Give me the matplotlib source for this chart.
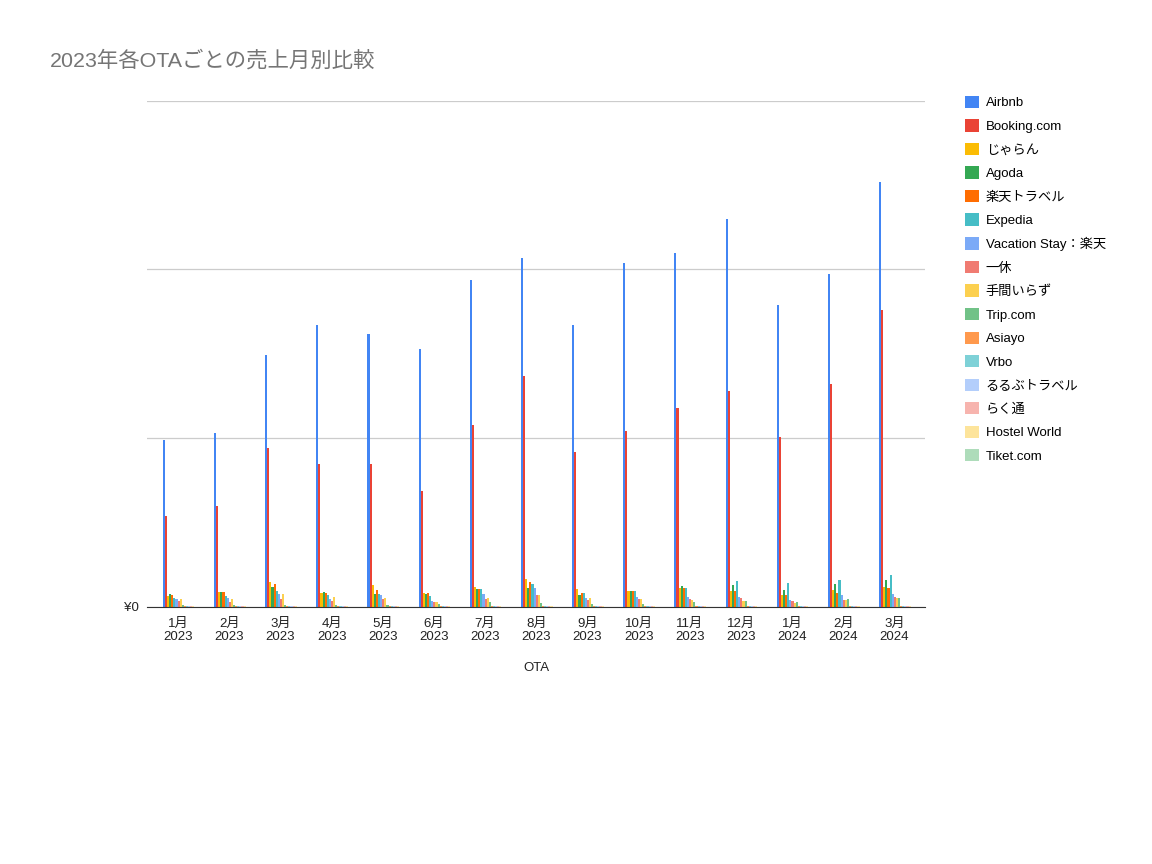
import matplotlib.pyplot as plt
import numpy as np

plt.rcParams['font.family'] = ['Liberation Sans', 'Noto Sans CJK JP', 'DejaVu Sans']

months = ['1月\n2023', '2月\n2023', '3月\n2023', '4月\n2023', '5月\n2023', '6月\n2023',
          '7月\n2023', '8月\n2023', '9月\n2023', '10月\n2023', '11月\n2023', '12月\n2023',
          '1月\n2024', '2月\n2024', '3月\n2024']

ota_names = ['Airbnb', 'Booking.com', 'じゃらん', 'Agoda', '楽天トラベル', 'Expedia',
             'Vacation Stay：楽天', '一休', '手間いらず', 'Trip.com', 'Asiayo', 'Vrbo',
             'るるぶトラベル', 'らく通', 'Hostel World', 'Tiket.com']

airbnb = [99, 103, 149, 167, 162, 153, 194, 207, 167, 204, 210, 230, 179, 197, 252]
booking = [54, 60, 94, 85, 85, 69, 108, 137, 92, 104, 118, 128, 101, 132, 176]
jalan = [6.5, 8.9, 14.8, 8.3, 13, 8.3, 11.8, 16.5, 10.6, 9.4, 11.2, 9.4, 7.1, 10, 11.8]
agoda = [7.7, 8.9, 11.8, 8.9, 7.7, 7.7, 10.6, 11.2, 7.1, 9.4, 12.4, 13, 10, 13.6, 16]
rakuten = [7.1, 8.9, 13.6, 8.3, 10, 8.3, 10.6, 14.8, 8.3, 9.4, 11.2, 9.4, 7.1, 8.3, 11.2]
expedia = [5.3, 6.5, 9.4, 7.1, 7.7, 6.5, 10.6, 13.6, 8.3, 9.4, 11.2, 15.4, 14.2, 16, 18.9]
vacation = [4.7, 5.3, 7.7, 4.7, 7.1, 3.5, 7.7, 11.2, 5.3, 5.9, 5.9, 5.9, 4.1, 7.1, 7.7]
ikkyu = [3.5, 3, 4.7, 3.5, 4.7, 3, 4.7, 7.1, 4.1, 4.7, 4.7, 5.3, 3.5, 4.1, 5.9]
temairazu = [4.7, 4.7, 7.7, 5.9, 5.6, 3, 5.3, 7.1, 5.3, 4.7, 4.1, 3.5, 2.4, 4.1, 5.3]
trip = [1.2, 1.2, 1.2, 1.2, 1.2, 1.8, 3, 2.4, 1.8, 1.8, 3, 3.5, 3, 4.7, 5.3]
asiayo = [0.6, 0.6, 0.7, 0.6, 0.6, 0.6, 0.7, 0.8, 0.6, 0.6, 0.7, 0.7, 0.6, 0.7, 0.8]
vrbo = [0.4, 0.4, 0.5, 0.4, 0.4, 0.4, 0.5, 0.5, 0.4, 0.4, 0.5, 0.5, 0.4, 0.5, 0.5]
rurubu = [0.4, 0.4, 0.4, 0.4, 0.4, 0.3, 0.4, 0.4, 0.4, 0.4, 0.4, 0.4, 0.3, 0.4, 0.4]
rakutsu = [0.3, 0.3, 0.3, 0.3, 0.3, 0.3, 0.3, 0.3, 0.3, 0.3, 0.3, 0.3, 0.3, 0.3, 0.3]
hostel = [0.3, 0.3, 0.3, 0.3, 0.3, 0.3, 0.3, 0.3, 0.3, 0.3, 0.3, 0.3, 0.3, 0.3, 0.3]
tiket = [0.2, 0.2, 0.2, 0.2, 0.2, 0.2, 0.2, 0.2, 0.2, 0.2, 0.2, 0.2, 0.2, 0.2, 0.2]

series = [airbnb, booking, jalan, agoda, rakuten, expedia, vacation, ikkyu,
          temairazu, trip, asiayo, vrbo, rurubu, rakutsu, hostel, tiket]

colors = ['#4285F4', '#EA4335', '#FBBC04', '#34A853', '#FF6D01', '#46BDC6',
          '#7BAAF7', '#F07B72', '#FCD04F', '#71C287', '#FF994D', '#7ED1D7',
          '#B3CEFB', '#F7B4AE', '#FDE49B', '#AEDCBA']

fig = plt.figure(figsize=(11.52, 8.64), dpi=100)
ax = fig.add_axes([0.128, 0.2975, 0.675, 0.586])

x = np.arange(len(months))
n = len(series)
group_w = 0.66
bw = group_w / n
for i, (vals, name, c) in enumerate(zip(series, ota_names, colors)):
    ax.bar(x - group_w / 2 + bw * (i + 0.5) + 0.03, vals, bw, color=c, label=name, zorder=3)

ax.set_xlim(-0.6, len(months) - 0.4)
ax.set_ylim(0, 300)
ax.set_yticks([0, 100, 200, 300])
ax.set_yticklabels(['¥0', '', '', ''], fontsize=9.5, color='#222222')
ax.grid(axis='y', color='#cccccc', linewidth=0.9, zorder=0)
ax.tick_params(axis='y', length=0, pad=6)
ax.tick_params(axis='x', length=0, pad=8)
ax.set_xticks(x)
ax.set_xticklabels(months, fontsize=9.5, color='#222222', linespacing=1.1)
for s in ['top', 'right', 'left']:
    ax.spines[s].set_visible(False)
ax.spines['bottom'].set_color('#333333')
ax.spines['bottom'].set_zorder(4)
ax.set_xlabel('OTA', fontsize=9.5, color='#222222', labelpad=14)

fig.text(0.043, 0.93, '2023年各OTAごとの売上月別比較', fontsize=15.4, color='#757575', va='center')

ax.legend(loc='upper left', bbox_to_anchor=(1.045, 1.02), frameon=False,
          fontsize=9.5, handlelength=1.05, handleheight=1.05, labelspacing=0.75,
          handletextpad=0.5, borderaxespad=0)

fig.savefig('out.png', dpi=100)
